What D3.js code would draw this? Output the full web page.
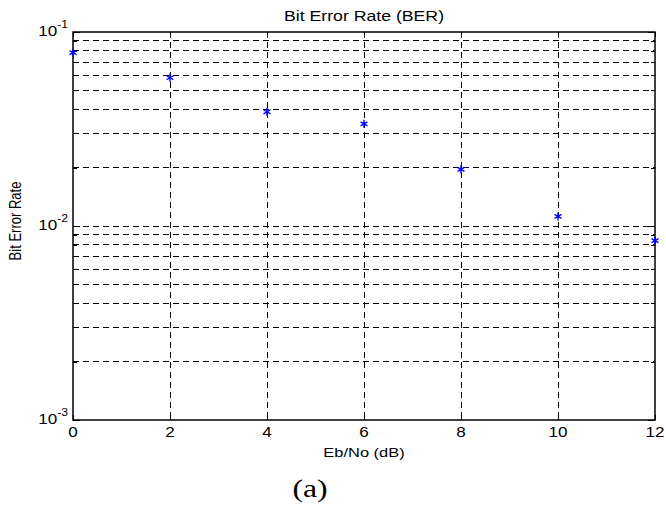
<!DOCTYPE html>
<html><head><meta charset="utf-8">
<script src="https://cdn.jsdelivr.net/npm/d3@7"></script>
<style>body{margin:0;background:#fff}svg{display:block}</style>
</head><body><svg id="c" width="666" height="510"></svg>
<script>
const ebno = [0, 2, 4, 6, 8, 10, 12];
const ber = [0.0782, 0.0581, 0.0388, 0.0336, 0.0196, 0.0112, 0.0084];
const xTicks = [0, 2, 4, 6, 8, 10, 12];
const yMajor = [1e-3, 1e-2, 1e-1];
const yExp = ["-3", "-2", "-1"];

const svg = d3.select("#c");
const L = 73, R = 655, T = 32, B = 420;
const SX = 1.22;
const x = d3.scaleLinear().domain([0, 12]).range([L, R]);
const y = d3.scaleLog().domain([1e-3, 1e-1]).range([B, T]);
const font = "'Liberation Sans', Arial, sans-serif";
const serif = "'Liberation Serif', 'Times New Roman', serif";

function txt(px, py, size, anchor, fam) {
  return svg.append("text").attr("transform", `translate(${px},${py}) scale(${SX},1)`)
    .attr("text-anchor", anchor).attr("font-family", fam || font).attr("font-size", size)
    .attr("font-weight", "normal").attr("fill", "#000");
}

const yGrid = [];
for (let d = -3; d < -1; d++) for (let m = 1; m <= 9; m++) yGrid.push(m * Math.pow(10, d));
yGrid.push(1e-1);

const g = svg.append("g");
g.selectAll("line.hg").data(yGrid.filter(v => v > 1.5e-3 && v < 0.099)).enter().append("line")
  .attr("x1", L).attr("x2", R).attr("y1", d => y(d)).attr("y2", d => y(d))
  .attr("stroke", "#000").attr("stroke-width", 1).attr("stroke-dasharray", "6,4")
  .attr("shape-rendering", "crispEdges");
g.selectAll("line.vg").data(xTicks.slice(1, -1)).enter().append("line")
  .attr("x1", d => x(d)).attr("x2", d => x(d)).attr("y1", T).attr("y2", B)
  .attr("stroke", "#000").attr("stroke-width", 1).attr("stroke-dasharray", "6,4")
  .attr("shape-rendering", "crispEdges");

const ax = svg.append("g");
ax.append("g").attr("transform", `translate(0,${B})`)
  .call(d3.axisBottom(x).tickValues(xTicks).tickSize(-5).tickFormat(""));
ax.append("g").attr("transform", `translate(0,${T})`)
  .call(d3.axisTop(x).tickValues(xTicks).tickSize(-5).tickFormat(""));
const yl = ax.append("g").attr("transform", `translate(${L},0)`)
  .call(d3.axisLeft(y).tickValues(yGrid).tickSize(-4).tickFormat(""));
const yr = ax.append("g").attr("transform", `translate(${R},0)`)
  .call(d3.axisRight(y).tickValues(yGrid).tickSize(-4).tickFormat(""));
ax.selectAll(".domain").remove();
ax.selectAll("line").attr("stroke", "#000").attr("shape-rendering", "crispEdges");
yl.selectAll(".tick line").filter(d => yMajor.includes(d)).attr("x2", 7);
yr.selectAll(".tick line").filter(d => yMajor.includes(d)).attr("x2", -7);

svg.append("rect").attr("x", L).attr("y", T).attr("width", R - L).attr("height", B - T)
  .attr("fill", "none").attr("stroke", "#000").attr("stroke-width", 1.5);

xTicks.forEach(d => txt(x(d), B + 17, 14, "middle").text(d));

yMajor.forEach((v, i) => {
  const t = txt(L - 5, y(v) + 4, 14, "end");
  t.append("tspan").text("10");
  t.append("tspan").attr("dy", -8).attr("font-size", 10).text(yExp[i]);
});

txt((L + R) / 2, 20.5, 14.5, "middle").text("Bit Error Rate (BER)");
txt((L + R) / 2, 457, 13.5, "middle").text("Eb/No (dB)");
svg.append("text").attr("transform", `translate(21,221) scale(${SX},1) rotate(-90)`).attr("text-anchor", "middle")
  .attr("font-family", font).attr("font-size", 13).text("Bit Error Rate");
txt(310, 497, 26, "middle", serif).text("(a)");

const sym = d3.symbol().type(d3.symbolAsterisk).size(45);
svg.append("g").selectAll("path").data(ebno.map((e, i) => [e, ber[i]])).enter().append("path")
  .attr("d", sym).attr("transform", d => `translate(${x(d[0])},${y(d[1])})`)
  .attr("fill", "none").attr("stroke", "#0000ff").attr("stroke-width", 1.4);
</script></body></html>
